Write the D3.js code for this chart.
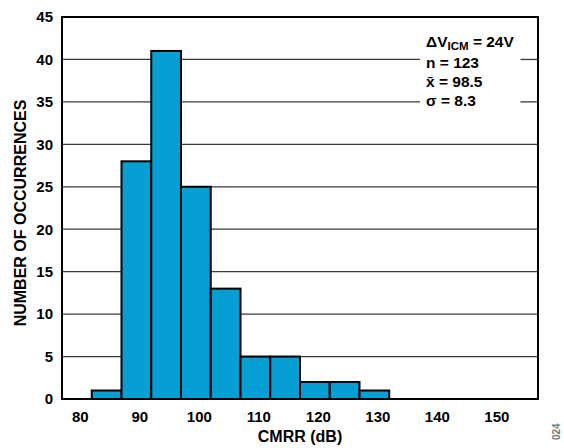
<!DOCTYPE html>
<html>
<head>
<meta charset="utf-8">
<script src="https://cdn.jsdelivr.net/npm/d3@7"></script>
<style>
  html, body { margin: 0; padding: 0; background: #fff; }
  text { font-family: "Liberation Sans", Arial, Helvetica, sans-serif; font-weight: bold; }
</style>
</head>
<body>
<svg id="chart" width="564" height="448"></svg>
<script>
// ---- data ----
const binStarts = [82, 87, 92, 97, 102, 107, 112, 117, 122, 127];
const binWidth = 5;
const counts = [1, 28, 41, 25, 13, 5, 5, 2, 2, 1];
const xTicks = [80, 90, 100, 110, 120, 130, 140, 150];
const yTicks = [0, 5, 10, 15, 20, 25, 30, 35, 40, 45];
const annotationLines = ["n = 123", "x\u0304 = 98.5", "\u03C3 = 8.3"];

// ---- layout ----
const L = 62, R = 538, T = 17, B = 399;
const svg = d3.select("#chart");
const x = d3.scaleLinear().domain([77, 157]).range([L, R]);
const y = d3.scaleLinear().domain([0, 45]).range([B, T]);

// annotation (drawn first to measure, raised later)
const ann = svg.append("g").attr("class", "ann");
const t0 = ann.append("text").attr("x", 426).attr("y", 47).attr("font-size", 15.5).attr("fill", "#000");
t0.append("tspan").text("\u0394V");
t0.append("tspan").attr("font-size", 11.5).attr("dy", 3).text("ICM");
t0.append("tspan").attr("dy", -3).text(" = 24V");
annotationLines.forEach((s, i) => {
  ann.append("text").attr("x", 426).attr("y", 68 + i * 19)
    .attr("font-size", 15.5).attr("fill", "#000").text(s);
});
const bb = ann.node().getBBox();
const gapL = bb.x - 6, gapR = bb.x + bb.width + 6, gapT = bb.y, gapB = bb.y + bb.height;

// gridlines
const grid = svg.insert("g", ".ann");
yTicks.filter(v => v > 0 && v < 45).forEach(v => {
  const yy = y(v);
  const segs = (yy > gapT && yy < gapB) ? [[L, gapL], [gapR, R]] : [[L, R]];
  segs.forEach(([a, b]) => {
    grid.append("line").attr("x1", a).attr("x2", b).attr("y1", yy).attr("y2", yy)
      .attr("stroke", "#3a3a3a").attr("stroke-width", 1.3);
  });
});

// bars
svg.insert("g", ".ann").selectAll("rect").data(binStarts).join("rect")
  .attr("x", (d) => x(d))
  .attr("width", (d) => x(d + binWidth) - x(d))
  .attr("y", (d, i) => y(counts[i]))
  .attr("height", (d, i) => y(0) - y(counts[i]))
  .attr("fill", "#069fd3")
  .attr("stroke", "#000").attr("stroke-width", 2);

// frame
svg.append("rect").attr("x", L).attr("y", T).attr("width", R - L).attr("height", B - T)
  .attr("fill", "none").attr("stroke", "#000").attr("stroke-width", 2);

// axes (labels only, no tick marks)
const xAxis = svg.append("g").attr("transform", `translate(0,${B})`)
  .call(d3.axisBottom(x).tickValues(xTicks).tickSize(0).tickPadding(12));
xAxis.select(".domain").remove();
xAxis.selectAll("text").attr("font-size", 15).attr("fill", "#000")
  .attr("font-family", "Liberation Sans, Arial, sans-serif").attr("font-weight", "bold");

const yAxis = svg.append("g").attr("transform", `translate(${L},0)`)
  .call(d3.axisLeft(y).tickValues(yTicks).tickSize(0).tickPadding(9));
yAxis.select(".domain").remove();
yAxis.selectAll("text").attr("font-size", 15).attr("fill", "#000")
  .attr("font-family", "Liberation Sans, Arial, sans-serif").attr("font-weight", "bold");

// titles
svg.append("text").attr("x", 300).attr("y", 442).attr("text-anchor", "middle")
  .attr("font-size", 16).attr("fill", "#000").text("CMRR (dB)");
svg.append("text").attr("transform", "translate(26,213) rotate(-90)")
  .attr("text-anchor", "middle").attr("font-size", 16).attr("fill", "#000")
  .text("NUMBER OF OCCURRENCES");

// figure id
svg.append("text").attr("transform", "translate(560,440) rotate(-90)")
  .attr("font-size", 10).attr("font-weight", "normal").attr("fill", "#777").text("024");

ann.raise();
</script>
</body>
</html>
